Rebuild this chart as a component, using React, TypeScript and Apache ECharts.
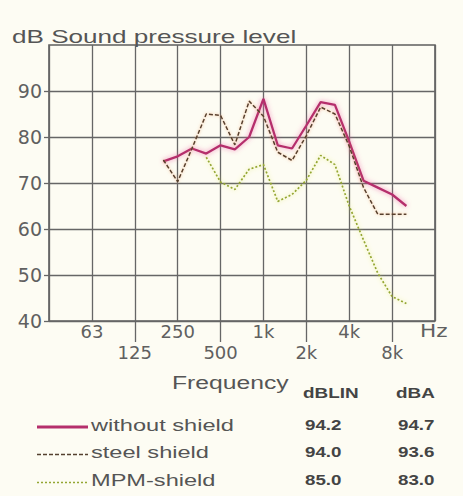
import React, { useEffect, useRef } from 'react';
import * as echarts from 'echarts';

// Third-octave band centre frequencies (Hz)
const bandHz = [200, 250, 315, 400, 500, 630, 800, 1000, 1250, 1600, 2000, 2500, 3150, 4000, 5000, 6300, 8000, 10000];
// Sound pressure level (dB) per band
const withoutShield = [74.7, 75.8, 77.5, 76.4, 78.2, 77.3, 80.0, 88.3, 78.2, 77.5, 82.5, 87.6, 87.0, 79.0, 70.5, 69.0, 67.5, 65.0];
const steelShield = [75.0, 70.3, 77.5, 85.0, 84.7, 78.3, 87.8, 84.5, 76.7, 74.9, 80.3, 86.5, 85.0, 78.0, 69.0, 63.2, 63.2, 63.2];
const mpmShield = [null, null, null, 75.6, 70.2, 68.6, 73.0, 74.0, 66.0, 67.5, 70.6, 76.0, 74.0, 65.0, 57.6, 50.4, 45.3, 43.8];

// Octave tick labels (index 0 = 31.5 Hz left edge, 9 = 16 kHz right edge)
const octaveLabels = ['31.5', '63', '125', '250', '500', '1k', '2k', '4k', '8k', '16k'];
const shownOctaves = [1, 2, 3, 4, 5, 6, 7, 8];
const lowerRowOctaves = [2, 4, 6, 8];
const yTickValues = [40, 50, 60, 70, 80, 90];

// Legend table
const legendNames = ['without shield', 'steel shield', 'MPM-shield'];
const dBLINValues = ['94.2', '94.0', '85.0'];
const dBAValues = ['94.7', '93.6', '83.0'];

const toOctave = (f: number) => Math.round(3 * Math.log2(f / 1000)) / 3 + 5;
const pair = (vals: (number | null)[]) =>
  bandHz.map((f, i) => [toOctave(f), vals[i]]).filter((p) => p[1] !== null);

const GRID = '#666666';
const LABEL = '#606060';
const SANS = '"Liberation Sans", Arial, sans-serif';

export default function App() {
  const ref = useRef<HTMLDivElement>(null);
  useEffect(() => {
    if (!ref.current) return;
    const chart = echarts.init(ref.current, null, { renderer: 'svg' });

    const pinkStyle = { color: '#b52f6c', width: 2.3, shadowColor: 'rgba(235,90,160,0.7)', shadowBlur: 5 };
    const steelStyle = { color: '#54402f', width: 1.5, type: [4, 2] as any, shadowColor: 'rgba(230,140,80,0.6)', shadowBlur: 3 };
    const mpmStyle = { color: '#94a633', width: 1.7, type: [2, 2] as any, shadowColor: 'rgba(220,230,80,0.75)', shadowBlur: 4 };
    const lineStyles = [pinkStyle, steelStyle, mpmStyle];

    const rowY = [425, 452.5, 480.5];
    const legendGraphics: any[] = [];
    legendNames.forEach((name, i) => {
      const ls = lineStyles[i];
      legendGraphics.push({
        type: 'line',
        shape: { x1: 37, y1: rowY[i] + 2, x2: 88, y2: rowY[i] + 2 },
        style: { stroke: ls.color, lineWidth: i === 0 ? 3 : ls.width, lineDash: (ls as any).type || null },
      });
      legendGraphics.push({
        type: 'text', x: 91, y: rowY[i], scaleX: 1.43,
        style: { text: name, font: `16.5px ${SANS}`, fill: '#555', verticalAlign: 'middle' },
      });
      legendGraphics.push({
        type: 'text', x: 305, y: rowY[i], scaleX: 1.25,
        style: { text: dBLINValues[i], font: `bold 15px ${SANS}`, fill: '#444', verticalAlign: 'middle' },
      });
      legendGraphics.push({
        type: 'text', x: 398, y: rowY[i], scaleX: 1.25,
        style: { text: dBAValues[i], font: `bold 15px ${SANS}`, fill: '#444', verticalAlign: 'middle' },
      });
    });

    chart.setOption({
      animation: false,
      backgroundColor: '#fdfcf3',
      grid: { left: 49, right: 28, top: 45, bottom: 175, show: true, borderColor: '#5e5e5e', borderWidth: 1.6 },
      xAxis: [
        {
          type: 'value', min: 0, max: 9, interval: 1,
          axisLine: { show: false },
          axisTick: { show: false },
          splitLine: { show: true, lineStyle: { color: GRID, width: 1.3 } },
          axisLabel: {
            customValues: shownOctaves,
            formatter: (v: number) => {
              const i = Math.round(v);
              const t = octaveLabels[i];
              return i % 2 === 1 ? t : '\n' + t;
            },
            margin: 0, lineHeight: 21, fontSize: 18, fontFamily: 'DejaVu Sans', color: LABEL,
          },
        },
        {
          type: 'value', min: 0, max: 9, position: 'bottom',
          axisLine: { show: false },
          axisTick: { show: true, customValues: lowerRowOctaves, length: 21, lineStyle: { color: GRID, width: 1.3 } },
          axisLabel: { show: false },
          splitLine: { show: false },
        },
      ],
      yAxis: {
        type: 'value', min: 40, max: 100, interval: 10,
        axisLine: { show: false },
        axisTick: { show: true, customValues: yTickValues, length: 5, lineStyle: { color: GRID, width: 1.3 } },
        splitLine: { show: true, lineStyle: { color: GRID, width: 1.3 } },
        axisLabel: {
          formatter: (v: number) => (v === 100 ? '' : String(v)),
          margin: 7, fontSize: 19, fontFamily: 'DejaVu Sans', color: LABEL,
        },
      },
      series: [
        { name: legendNames[2], type: 'line', data: pair(mpmShield), symbol: 'none', lineStyle: mpmStyle, z: 2 },
        { name: legendNames[0], type: 'line', data: pair(withoutShield), symbol: 'none', lineStyle: pinkStyle, z: 3 },
        { name: legendNames[1], type: 'line', data: pair(steelShield), symbol: 'none', lineStyle: steelStyle, z: 4 },
      ],
      graphic: [
        {
          type: 'text', x: 12, y: 37, scaleX: 1.45,
          style: { text: 'dB Sound pressure level', font: `18px ${SANS}`, fill: '#555', verticalAlign: 'middle' },
        },
        {
          type: 'text', x: 420, y: 331.5, scaleX: 1.2,
          style: { text: 'Hz', font: '18px "DejaVu Sans"', fill: LABEL, verticalAlign: 'middle' },
        },
        {
          type: 'text', x: 172, y: 382.5, scaleX: 1.3,
          style: { text: 'Frequency', font: `19px ${SANS}`, fill: '#555', verticalAlign: 'middle' },
        },
        {
          type: 'text', x: 303, y: 393, scaleX: 1.35,
          style: { text: 'dBLIN', font: `bold 14px ${SANS}`, fill: '#444', verticalAlign: 'middle' },
        },
        {
          type: 'text', x: 396, y: 393, scaleX: 1.35,
          style: { text: 'dBA', font: `bold 14px ${SANS}`, fill: '#444', verticalAlign: 'middle' },
        },
        ...legendGraphics,
      ],
    });
    return () => chart.dispose();
  }, []);
  return <div ref={ref} style={{ position: 'absolute', left: 0, top: 0, width: 463, height: 496 }} />;
}
